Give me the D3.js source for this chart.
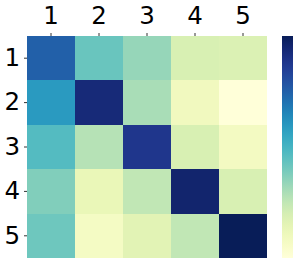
<!DOCTYPE html>
<html>
<head>
<meta charset="utf-8">
<script src="https://cdn.jsdelivr.net/npm/d3@7"></script>
<style>
html,body{margin:0;padding:0;background:#fff;}
svg{display:block;}
</style>
</head>
<body>
<script>
const rowLabels = ["1","2","3","4","5"];
const colLabels = ["1","2","3","4","5"];
const values = [
  [0.75, 0.42, 0.335, 0.19, 0.18],
  [0.59, 0.93, 0.30, 0.09, 0.0],
  [0.466, 0.275, 0.88, 0.19, 0.076],
  [0.375, 0.125, 0.25, 0.956, 0.19],
  [0.41, 0.07, 0.158, 0.25, 1.0]
];
const colorDomain = [0, 1];

(function () {
const W = 299, H = 265;
const svg = d3.select("body").append("svg").attr("width", W).attr("height", H);

const pLeft = 27, pTop = 36, pRight = 267, pBottom = 258;
const x = d3.scaleBand().domain(colLabels).range([pLeft, pRight]);
const y = d3.scaleBand().domain(rowLabels).range([pTop, pBottom]);
const color = d3.scaleSequential(d3.interpolateYlGnBu).domain(colorDomain);

const cells = [];
values.forEach((row, i) => row.forEach((v, j) => cells.push({r: rowLabels[i], c: colLabels[j], v})));

svg.append("g").selectAll("rect").data(cells).join("rect")
  .attr("x", d => x(d.c)).attr("y", d => y(d.r))
  .attr("width", x.bandwidth()).attr("height", y.bandwidth())
  .attr("fill", d => color(d.v))
  .attr("shape-rendering", "crispEdges");

const font = "DejaVu Sans";
const xAxis = svg.append("g").attr("transform", `translate(0,${pTop})`)
  .call(d3.axisTop(x).tickSize(3).tickPadding(9));
const yAxis = svg.append("g").attr("transform", `translate(${pLeft},0)`)
  .call(d3.axisLeft(y).tickSize(3).tickPadding(4));
[xAxis, yAxis].forEach(a => {
  a.select(".domain").remove();
  a.selectAll("line").attr("stroke", "#333").attr("stroke-width", 1);
  a.selectAll("text").attr("font-family", font).attr("font-size", 24.5).attr("fill", "#000");
});

// colorbar
const cbX = 282, cbW = 11;
const cb = d3.scaleLinear().domain(colorDomain).range([pBottom, pTop]);
const defs = svg.append("defs");
const grad = defs.append("linearGradient").attr("id", "cbgrad")
  .attr("x1", 0).attr("y1", 1).attr("x2", 0).attr("y2", 0);
d3.range(0, 1.0001, 0.05).forEach(t => {
  grad.append("stop").attr("offset", t).attr("stop-color", color(colorDomain[0] + t * (colorDomain[1] - colorDomain[0])));
});
svg.append("rect").attr("x", cbX).attr("y", cb(colorDomain[1]))
  .attr("width", cbW).attr("height", cb(colorDomain[0]) - cb(colorDomain[1]))
  .attr("fill", "url(#cbgrad)");
})();
</script>
</body>
</html>
